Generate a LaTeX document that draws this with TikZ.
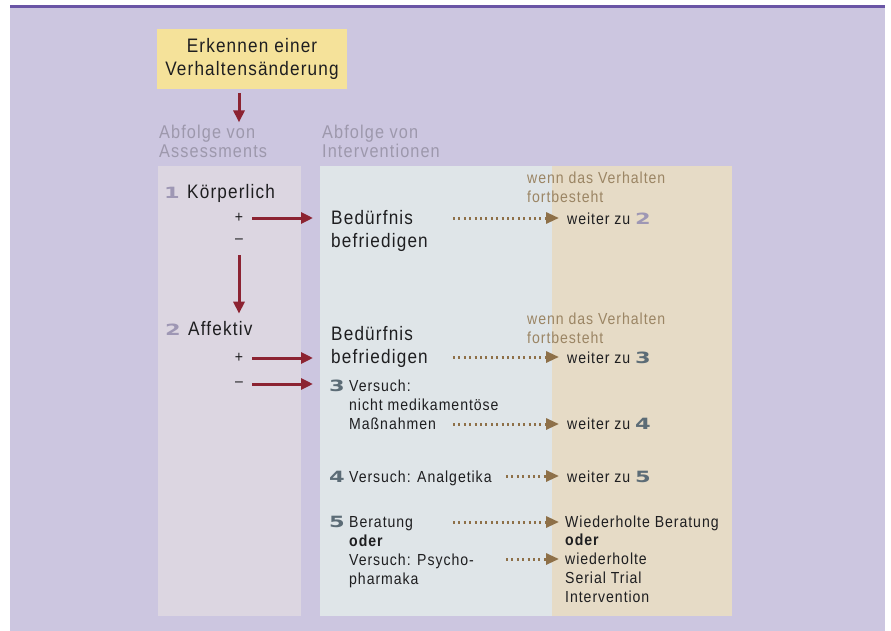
\documentclass[tikz,border=0pt]{standalone}
\usepackage{fontspec}
\setmainfont{Liberation Sans}[FakeStretch=0.88,LetterSpace=6]
\newfontfamily\numfont{DejaVu Sans}[FakeStretch=1.45]
\usetikzlibrary{positioning,arrows.meta}
\definecolor{bgpurple}{RGB}{204,198,224}
\definecolor{topline}{RGB}{106,85,165}
\definecolor{yellowbox}{RGB}{245,226,154}
\definecolor{assesscol}{RGB}{220,214,225}
\definecolor{intervcol}{RGB}{223,229,232}
\definecolor{resultcol}{RGB}{230,219,198}
\definecolor{redarrow}{RGB}{140,35,50}
\definecolor{dotbrown}{RGB}{142,112,72}
\definecolor{wenncol}{RGB}{155,133,100}
\definecolor{headgray}{RGB}{157,152,172}
\definecolor{numlilac}{RGB}{158,151,180}
\definecolor{numslate}{RGB}{92,108,118}
\definecolor{ink}{RGB}{30,30,32}
\newcommand\bigtxt{\fontsize{19.5}{23}\selectfont}
\newcommand\smtxt{\fontsize{16}{19}\selectfont}
\newcommand\hdtxt{\fontsize{18.5}{19}\selectfont}
\newcommand\stepnum[2][numslate]{{\color{#1}\numfont\bfseries\fontsize{15.5}{16}\selectfont #2}}
\tikzset{
  lbl/.style    ={anchor=base west, inner sep=0pt, align=left, text=ink, font=\smtxt},
  biglbl/.style ={lbl, font=\bigtxt},
  head/.style   ={lbl, font=\hdtxt, text=headgray},
  wenn/.style   ={lbl, text=wenncol},
  num/.style    ={anchor=base west, inner sep=0pt},
  sign/.style   ={inner sep=0pt, font=\smtxt, text=ink},
  redar/.style  ={-{Triangle[length=12pt,width=11pt]}, draw=redarrow, line width=3pt},
  dotar/.style  ={-{Triangle[length=13pt,width=11pt]}, draw=dotbrown, line width=3pt,
                  dash pattern=on 2pt off 3.4pt},
}
\begin{document}
\begin{tikzpicture}[x=1pt,y=-1pt]
\useasboundingbox (0,0) rectangle (891,631);
% background and columns (multi-line labels sit on their last baseline)
\fill[bgpurple] (10,6) rectangle (885,631);
\draw[topline,line width=3pt] (10,7) -- (885,7);
\fill[assesscol] (158,166) rectangle (301,616);
\fill[intervcol] (320,166) rectangle (552,616);
\fill[resultcol] (552,166) rectangle (732,616);
% start
\node[fill=yellowbox, minimum width=190pt, minimum height=60pt, inner sep=0pt,
      align=center, font=\bigtxt, text=ink] (erkennen) at (252,59)
      {Erkennen einer\\Verhaltensänderung};
\node[head] (hassess) at (159,158) {Abfolge von\\Assessments};
\node[head] (hinterv) at (322,158) {Abfolge von\\Interventionen};
% assessments
\node[num] (n1) at (164,199) {\stepnum[numlilac]{1}};
\node[biglbl] (k1) at (187,199) {Körperlich};
\node[sign] (p1) at (239,218) {+};
\node[sign] (m1) at (239,241) {–};
\node[num] (n2) at (165,335) {\stepnum[numlilac]{2}};
\node[biglbl] (a2) at (188,335) {Affektiv};
\node[sign] (p2) at (239,358) {+};
\node[sign] (m2) at (239,384) {–};
% interventions
\node[biglbl] (bed1) at (331,247) {Bedürfnis\\befriedigen};
\node[biglbl] (bed2) at (331,363) {Bedürfnis\\befriedigen};
\node[num] (n3) at (329,391) {\stepnum{3}};
\node[lbl] (t3) at (349,429) {Versuch:\\nicht medikamentöse\\Maßnahmen};
\node[num] (n4) at (329,482) {\stepnum{4}};
\node[lbl] (t4) at (349,482) {Versuch: Analgetika};
\node[num] (n5) at (329,527) {\stepnum{5}};
\node[lbl] (t5) at (349,584) {Beratung\\\textbf{oder}\\Versuch: Psycho-\\pharmaka};
% if the behaviour persists
\node[wenn] (wenn1) at (527,203) {wenn das Verhalten\\fortbesteht};
\node[wenn] (wenn2) at (527,343) {wenn das Verhalten\\fortbesteht};
\node[lbl] (wz2) at (567,224) {weiter zu \stepnum[numlilac]{2}};
\node[lbl] (wz3) at (567,363) {weiter zu \stepnum{3}};
\node[lbl] (wz4) at (567,429) {weiter zu \stepnum{4}};
\node[lbl] (wz5) at (567,482) {weiter zu \stepnum{5}};
\node[lbl] (wb) at (565,527) {Wiederholte Beratung};
\node[lbl] (odr) at (565,545) {\textbf{oder}};
\node[lbl] (wst) at (565,602) {wiederholte\\Serial Trial\\Intervention};
% red connectors
\draw[redar, shorten <=4pt, shorten >=3pt] (erkennen.south -| p1) -- (hassess.north -| p1);
\draw[redar, shorten <=9pt, shorten >=18pt] (p1.east) -- (p1.east -| bed1.west);
\draw[redar, shorten <=12pt, shorten >=7pt] (m1.south) -- (m1 |- a2.north);
\draw[redar, shorten <=9pt, shorten >=18pt] (p2.east) -- (p2.east -| bed2.west);
\draw[redar, shorten <=9pt, shorten >=16pt] (m2.east) -- (m2.east -| n3.west);
% dotted connectors
\coordinate (s1) at (453,218);
\coordinate (s2) at (453,357);
\coordinate (s3) at (453,424);
\coordinate (s4) at (506,476);
\coordinate (s5) at (453,522);
\coordinate (s6) at (506,559);
\draw[dotar, shorten >=8pt] (s1) -- (s1 -| wz2.west);
\draw[dotar, shorten >=8pt] (s2) -- (s2 -| wz3.west);
\draw[dotar, shorten >=8pt] (s3) -- (s3 -| wz4.west);
\draw[dotar, shorten >=8pt] (s4) -- (s4 -| wz5.west);
\draw[dotar, shorten >=6pt] (s5) -- (s5 -| wb.west);
\draw[dotar, shorten >=6pt] (s6) -- (s6 -| wst.west);
\end{tikzpicture}
\end{document}
